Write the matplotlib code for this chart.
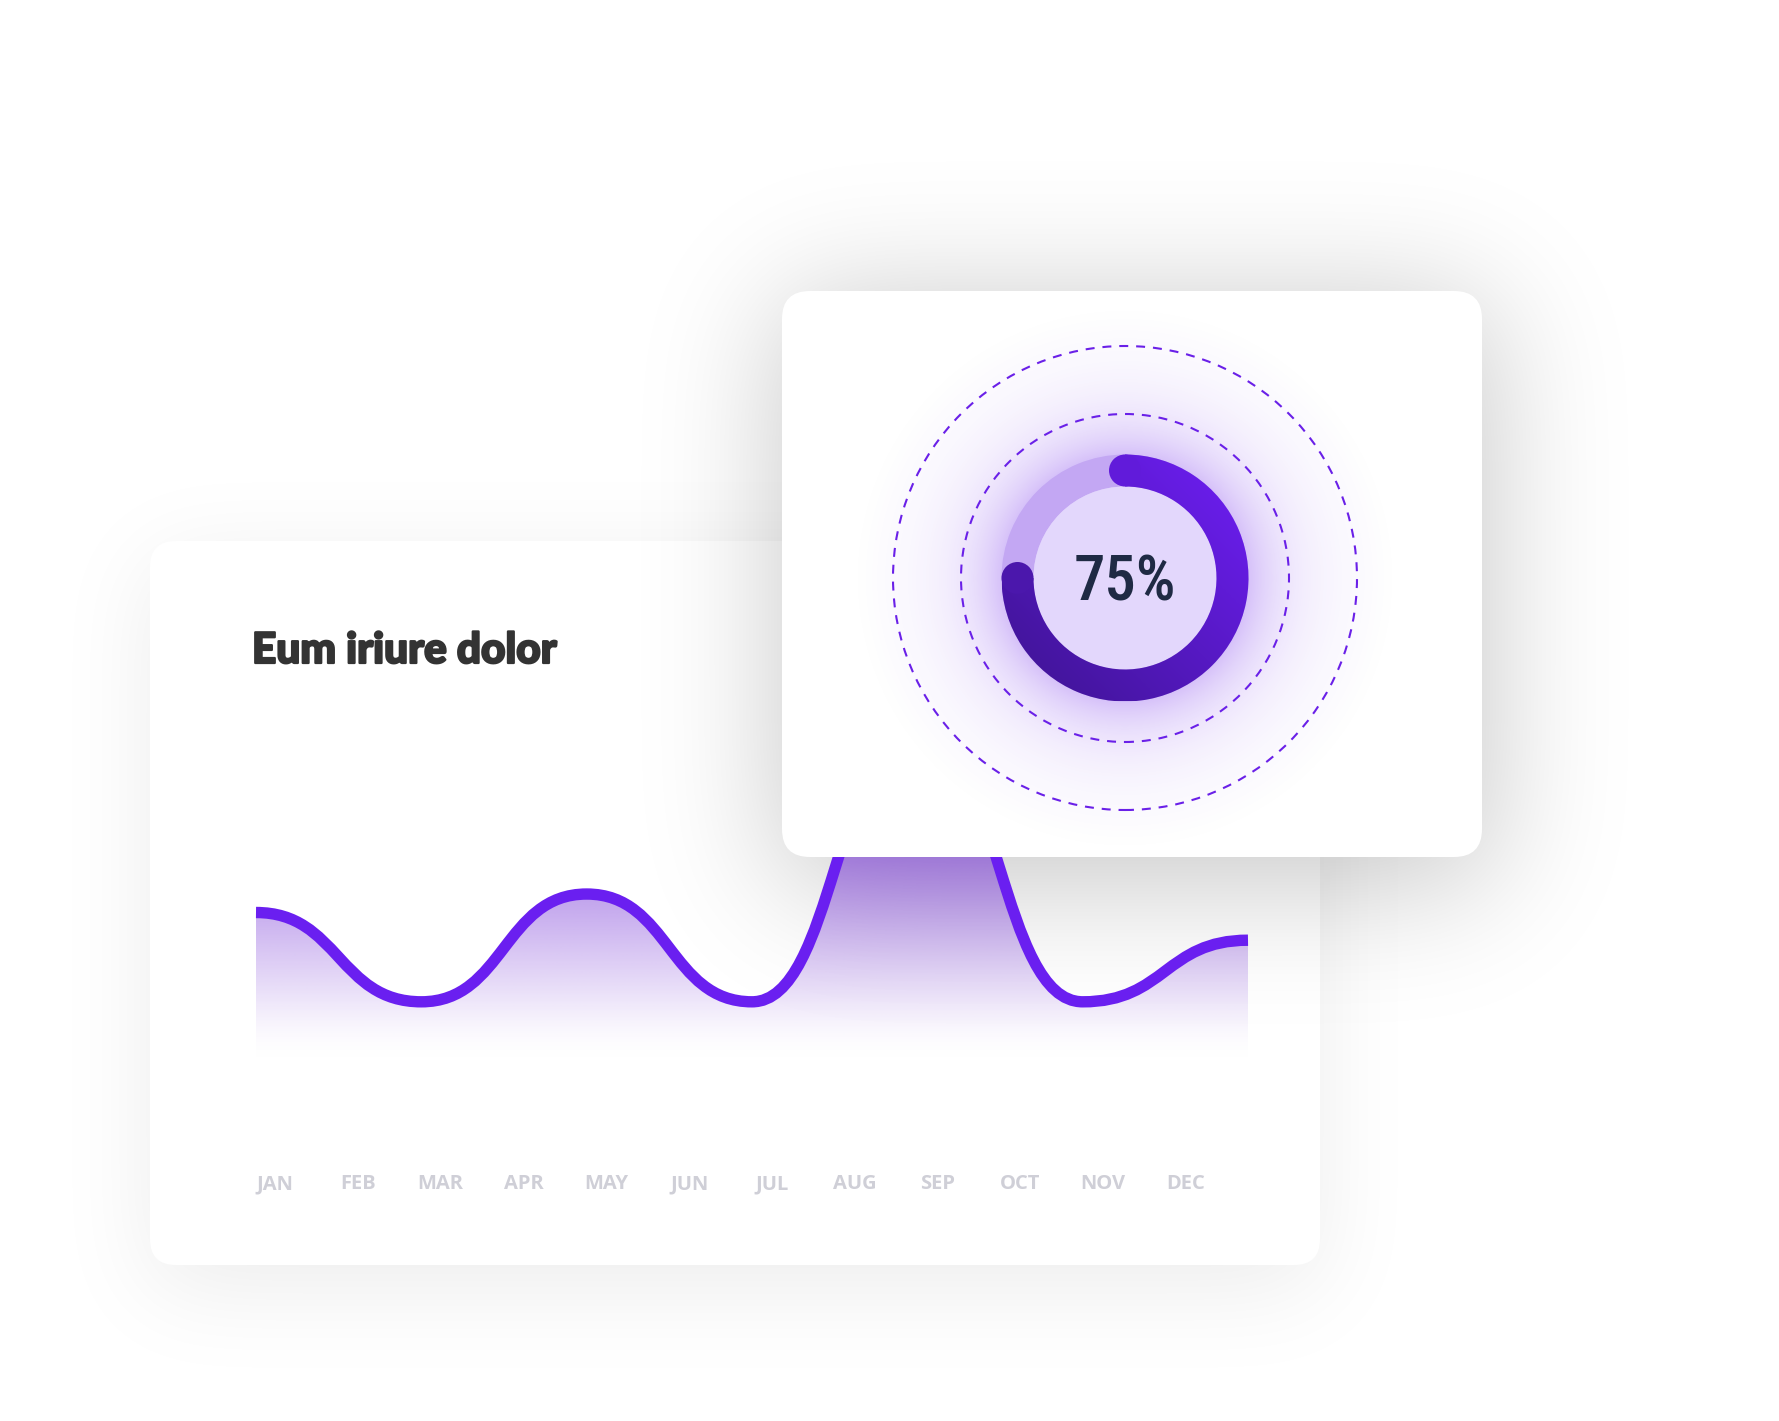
import math
import numpy as np
import matplotlib
matplotlib.use("Agg")
import matplotlib.pyplot as plt
import matplotlib.patheffects as pe
from matplotlib.patches import FancyBboxPatch, PathPatch, Wedge, Circle
from matplotlib.path import Path

# ---------------- data ----------------
title = "Eum iriure dolor"
months = ["JAN", "FEB", "MAR", "APR", "MAY", "JUN",
          "JUL", "AUG", "SEP", "OCT", "NOV", "DEC"]
curve_values = [43, 14, 49, 14, 100, 14, 34]
progress_pct = 75
progress_label = "75%"

# ---------------- figure ----------------
W, H, DPI = 1779, 1421, 100
fig = plt.figure(figsize=(W / DPI, H / DPI), dpi=DPI)
fig.patch.set_facecolor("white")


def px_axes(x0, y0, x1, y1):
    ax = fig.add_axes([x0 / W, 1 - y1 / H, (x1 - x0) / W, (y1 - y0) / H])
    ax.set_axis_off()
    return ax


def erf_arr(a):
    return np.array([math.erf(v) for v in a])


def box_shadow(x0, y0, x1, y1, sigma, amax):
    xs = np.arange(W) + 0.5
    ys = np.arange(H) + 0.5
    s = math.sqrt(2) * sigma
    px = 0.5 * (erf_arr((xs - x0) / s) - erf_arr((xs - x1) / s))
    py = 0.5 * (erf_arr((ys - y0) / s) - erf_arr((ys - y1) / s))
    img = np.zeros((H, W, 4))
    img[..., 3] = amax * np.outer(py, px)
    return img


# background layer: shadows + back card
bg = px_axes(0, 0, W, H)
bg.imshow(box_shadow(150, 560, 1320, 1290, 48, 0.075), extent=(0, W, H, 0),
          aspect="auto", zorder=1, interpolation="bilinear")
bg.add_patch(FancyBboxPatch((150, 541), 1170, 724,
                            boxstyle="round,pad=0,rounding_size=26",
                            fc="white", ec="none", zorder=2))
bg.imshow(box_shadow(780, 300, 1490, 885, 66, 0.22), extent=(0, W, H, 0),
          aspect="auto", zorder=3, interpolation="bilinear")
bg.set_xlim(0, W)
bg.set_ylim(H, 0)

# title
fig.text(252 / W, 1 - 663 / H, title, fontsize=30.5, fontfamily="Lato",
         fontweight="black", color="#333333", va="baseline", ha="left",
         path_effects=[pe.withStroke(linewidth=1.6, foreground="#333333")])

# ---------------- line chart ----------------
Y0 = -4.9
ax = px_axes(256, 737, 1248, 1060)
n = len(curve_values)
xs = np.arange(n)
verts = [(xs[0], curve_values[0])]
codes = [Path.MOVETO]
for i in range(n - 1):
    dx = xs[i + 1] - xs[i]
    verts += [(xs[i] + dx * 0.5, curve_values[i]),
              (xs[i + 1] - dx * 0.5, curve_values[i + 1]),
              (xs[i + 1], curve_values[i + 1])]
    codes += [Path.CURVE4] * 3
line_path = Path(verts, codes)
area_path = Path(verts + [(xs[-1], Y0), (xs[0], Y0), (xs[0], curve_values[0])],
                 codes + [Path.LINETO, Path.LINETO, Path.CLOSEPOLY])

ax.set_xlim(0, n - 1)
ax.set_ylim(Y0, 100)
vv = np.linspace(100, Y0, 500)
s = 3.0
alpha = 0.0092 * s * np.log1p(np.exp((vv - 1.6) / s))
alpha = np.clip(alpha, 0, 1)
grad = np.zeros((500, 2, 4))
grad[..., 0] = 110 / 255
grad[..., 1] = 40 / 255
grad[..., 2] = 212 / 255
grad[..., 3] = alpha[:, None]
im = ax.imshow(grad, extent=(0, n - 1, Y0, 100), aspect="auto", origin="upper",
               zorder=1, interpolation="bilinear")
clip_patch = PathPatch(area_path, fc="none", ec="none")
ax.add_patch(clip_patch)
im.set_clip_path(clip_patch)
ax.add_patch(PathPatch(line_path, fill=False, ec="#6A1FF0", lw=8.2,
                       capstyle="butt", joinstyle="round", clip_on=False,
                       zorder=3))

# month labels
mx = px_axes(275 - 41.4, 1170, 1186 + 41.4, 1189)
mx.set_xlim(-0.5, 11.5)
mx.set_ylim(0, 1)
for i, m in enumerate(months):
    mx.text(i, 0, m, ha="center", va="baseline", fontsize=14.5,
            fontfamily="Open Sans", fontweight="bold", color="#CFCFD7")

# ---------------- front card ----------------
fg = px_axes(0, 0, W, H)
fg.set_xlim(0, W)
fg.set_ylim(H, 0)
fg.add_patch(FancyBboxPatch((782, 291), 700, 566,
                            boxstyle="round,pad=0,rounding_size=28",
                            fc="white", ec="none"))

# ---------------- donut ----------------
R = 280
dn = px_axes(1125 - R, 578 - R, 1125 + R, 578 + R)
dn.set_xlim(-R, R)
dn.set_ylim(-R, R)

g = np.linspace(-R, R, 2 * R)
gx, gy = np.meshgrid(g, g)
rr = np.hypot(gx, gy)
glow_a = 0.32 * np.exp(-np.clip(rr - 123, 0, None) / 45)
glow_a *= np.clip((R - rr) / 40, 0, 1)
glow = np.zeros((2 * R, 2 * R, 4))
glow[..., 0] = 124 / 255
glow[..., 1] = 58 / 255
glow[..., 2] = 237 / 255
glow[..., 3] = glow_a
dn.imshow(glow, extent=(-R, R, -R, R), origin="lower", zorder=1,
          interpolation="bilinear")

r_out, ring_w = 123.5, 32
r_mid = r_out - ring_w / 2
dn.add_patch(Wedge((0, 0), r_out, 0, 360, width=ring_w, fc="#C3A7F3",
                   ec="none", zorder=2))
dn.add_patch(Circle((0, 0), r_out - ring_w, fc="#E3D7FC", ec="none", zorder=2))

dark = np.array([0x44, 0x15, 0x9E]) / 255
bright = np.array([0x68, 0x1D, 0xE8]) / 255


def grad_col(x, y):
    t = min(max(((x + y) / (math.sqrt(2) * r_out) + 1) / 2, 0), 1)
    return tuple(dark * (1 - t) + bright * t)


gg = np.linspace(-r_out, r_out, 300)
px_, py_ = np.meshgrid(gg, gg)
tt = np.clip(((px_ + py_) / (math.sqrt(2) * r_out) + 1) / 2, 0, 1)
ring_img = dark[None, None, :] * (1 - tt)[..., None] + bright[None, None, :] * tt[..., None]
rim = dn.imshow(ring_img, extent=(-r_out, r_out, -r_out, r_out), origin="lower",
                zorder=3, interpolation="bilinear")
start_deg = 90
end_deg = 90 - 360 * progress_pct / 100
arc_clip = Wedge((0, 0), r_out, end_deg, start_deg, width=ring_w, fc="none",
                 ec="none")
dn.add_patch(arc_clip)
rim.set_clip_path(arc_clip)
for deg in (start_deg, end_deg):
    cx, cy = r_mid * math.cos(math.radians(deg)), r_mid * math.sin(math.radians(deg))
    dn.add_patch(Circle((cx, cy), ring_w / 2, fc=grad_col(cx, cy), ec="none",
                        zorder=4))

for rad in (164, 232):
    dn.add_patch(Circle((0, 0), rad, fill=False, ec="#6A20E8", lw=1.5,
                        linestyle=(0, (4.3, 3.8)), zorder=5))

dn.text(0, -22.5, progress_label, ha="center", va="baseline", fontsize=45,
        fontfamily=["Roboto Condensed", "Roboto"], fontweight="medium",
        color="#1F2A44", zorder=6)

fig.savefig("out.png", dpi=DPI, facecolor="white")
